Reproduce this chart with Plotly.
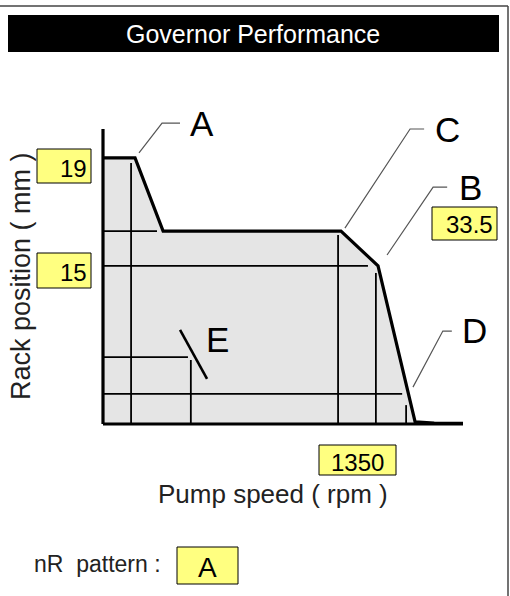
import plotly.graph_objects as go

W, H = 510, 596

# ---- data (schematic units: speed 0-100 along x-axis, rack 0-100 along y-axis)
curve_speed = [0, 8.9, 16.7, 66.1, 76.4, 86.7, 92.0, 100]
curve_rack = [90.2, 90.2, 65.4, 65.4, 53.6, 0.7, 0.3, 0.2]

# reference lines: (x position, top) verticals and (y position, right end) horizontals
vline_speed = [7.8, 24.4, 65.3, 75.8, 84.2]
vline_top = [88.5, 21.7, 64.1, 51.2, 6.4]
hline_rack = [65.4, 53.6, 22.7, 10.2]
hline_end = [15.0, 73.6, 23.6, 83.1]

# E mark
e_speed = [21.4, 28.9]
e_rack = [31.9, 15.3]

# point labels and leader lines
point_labels = ["A", "C", "B", "D", "E"]
leader_speed = [[10.0, 16.4, 21.4], [67.2, 85.3, 89.2], [78.9, 91.7, 95.6], [86.1, 94.4, 96.9]]
leader_rack = [[91.9, 102.0, 102.0], [66.4, 100.0, 100.0], [57.3, 80.3, 80.3], [12.5, 31.5, 31.5]]
label_speed = [27.6, 95.8, 102.0, 103.2, 31.8]
label_rack = [102.0, 100.0, 80.3, 31.7, 28.6]

value_labels = ["19", "15", "33.5", "1350"]
pattern = "A"

# ---- mapping of figure (pixel layout) to axes
X0, X1 = 103, 463   # px of speed 0 and 100
Y0, Y1 = 424, 129   # px of rack 0 and 100
sx = (X1 - X0) / 100.0
sy = (Y0 - Y1) / 100.0
xr = [-X0 / sx, (W - X0) / sx]
yr = [-(H - Y0) / sy, Y0 / sy]


def px(x):
    return x / W


def py(y):
    return 1 - y / H


fig = go.Figure()

# shaded area
fig.add_trace(go.Scatter(
    x=[0] + curve_speed + [curve_speed[-1], 0],
    y=[0] + curve_rack + [0, 0],
    fill="toself", fillcolor="#e5e5e5", mode="lines",
    line=dict(width=0, color="rgba(0,0,0,0)"), hoverinfo="skip"))

# grid lines
gx, gy = [], []
for xv, top in zip(vline_speed, vline_top):
    gx += [xv, xv, None]
    gy += [0, top, None]
for yv, end in zip(hline_rack, hline_end):
    gx += [0, end, None]
    gy += [yv, yv, None]
fig.add_trace(go.Scatter(x=gx, y=gy, mode="lines",
                         line=dict(color="black", width=1.8), hoverinfo="skip"))

# axes
fig.add_trace(go.Scatter(x=[0, 0, None, 0, 100], y=[100, 0, None, 0, 0], mode="lines",
                         line=dict(color="black", width=3.2), hoverinfo="skip"))

# curve
fig.add_trace(go.Scatter(x=curve_speed, y=curve_rack, mode="lines",
                         line=dict(color="black", width=3.2), hoverinfo="skip"))

# E slash
fig.add_trace(go.Scatter(x=e_speed, y=e_rack, mode="lines",
                         line=dict(color="black", width=2.6), hoverinfo="skip"))

# leader lines
lx, ly = [], []
for a, b in zip(leader_speed, leader_rack):
    lx += a + [None]
    ly += b + [None]
fig.add_trace(go.Scatter(x=lx, y=ly, mode="lines",
                         line=dict(color="#555555", width=1.2), hoverinfo="skip"))

FONT = "Liberation Sans, Arial, sans-serif"
ann = []
for t, xv, yv in zip(point_labels, label_speed, label_rack):
    ann.append(dict(x=xv, y=yv, xref="x", yref="y", text=t, showarrow=False,
                    font=dict(family=FONT, size=35, color="black"),
                    xanchor="center", yanchor="middle"))

shapes = []


def box(x0, y0, x1, y1):
    shapes.append(dict(type="rect", xref="paper", yref="paper",
                       x0=px(x0), x1=px(x1), y0=py(y1), y1=py(y0),
                       fillcolor="#ffff80", line=dict(color="black", width=1)))


# value boxes
box(37, 149, 91, 183)
ann.append(dict(x=px(89), y=py(168), xref="paper", yref="paper", text=value_labels[0],
                showarrow=False, xanchor="right", yanchor="middle",
                font=dict(family=FONT, size=24, color="black")))
box(37, 253, 91, 288)
ann.append(dict(x=px(89), y=py(272), xref="paper", yref="paper", text=value_labels[1],
                showarrow=False, xanchor="right", yanchor="middle",
                font=dict(family=FONT, size=24, color="black")))
box(432, 207, 497, 240)
ann.append(dict(x=px(495), y=py(225), xref="paper", yref="paper", text=value_labels[2],
                showarrow=False, xanchor="right", yanchor="middle",
                font=dict(family=FONT, size=24, color="black")))
box(319, 445, 396, 475)
ann.append(dict(x=px(357.5), y=py(462), xref="paper", yref="paper", text=value_labels[3],
                showarrow=False, xanchor="center", yanchor="middle",
                font=dict(family=FONT, size=24, color="black")))
box(177, 547, 238, 584)
ann.append(dict(x=px(207.5), y=py(567), xref="paper", yref="paper", text=pattern,
                showarrow=False, xanchor="center", yanchor="middle",
                font=dict(family=FONT, size=28, color="black")))

# title bar
shapes.append(dict(type="rect", xref="paper", yref="paper",
                   x0=px(8), x1=px(499), y0=py(52), y1=py(15),
                   fillcolor="black", line=dict(width=0)))
ann.append(dict(x=px(253), y=py(34), xref="paper", yref="paper", text="Governor Performance",
                showarrow=False, xanchor="center", yanchor="middle",
                font=dict(family=FONT, size=25, color="white")))

# border (top and right)
shapes.append(dict(type="line", xref="paper", yref="paper",
                   x0=px(0), x1=px(508), y0=py(6), y1=py(6),
                   line=dict(color="#444444", width=1.5)))
shapes.append(dict(type="line", xref="paper", yref="paper",
                   x0=px(508), x1=px(508), y0=py(6), y1=py(596),
                   line=dict(color="#444444", width=1.5)))

# axis titles
ann.append(dict(x=px(21), y=py(276), xref="paper", yref="paper", text="Rack position ( mm )",
                showarrow=False, textangle=-90, xanchor="center", yanchor="middle",
                font=dict(family=FONT, size=27, color="#222222")))
ann.append(dict(x=px(273), y=py(494), xref="paper", yref="paper", text="Pump speed ( rpm )",
                showarrow=False, xanchor="center", yanchor="middle",
                font=dict(family=FONT, size=26, color="#222222")))
ann.append(dict(x=px(32), y=py(564), xref="paper", yref="paper", text="nR  pattern :",
                showarrow=False, xanchor="left", yanchor="middle",
                font=dict(family=FONT, size=23, color="#222222")))

fig.update_layout(
    width=W, height=H, margin=dict(l=0, r=0, t=0, b=0),
    paper_bgcolor="white", plot_bgcolor="white", showlegend=False,
    xaxis=dict(range=xr, visible=False, fixedrange=True),
    yaxis=dict(range=yr, visible=False, fixedrange=True),
    shapes=shapes, annotations=ann,
)

fig.write_html("out.html", config={"displayModeBar": False},
               post_script="document.body.style.margin='0';document.body.style.padding='0';"
                           "document.body.style.overflow='hidden';")
